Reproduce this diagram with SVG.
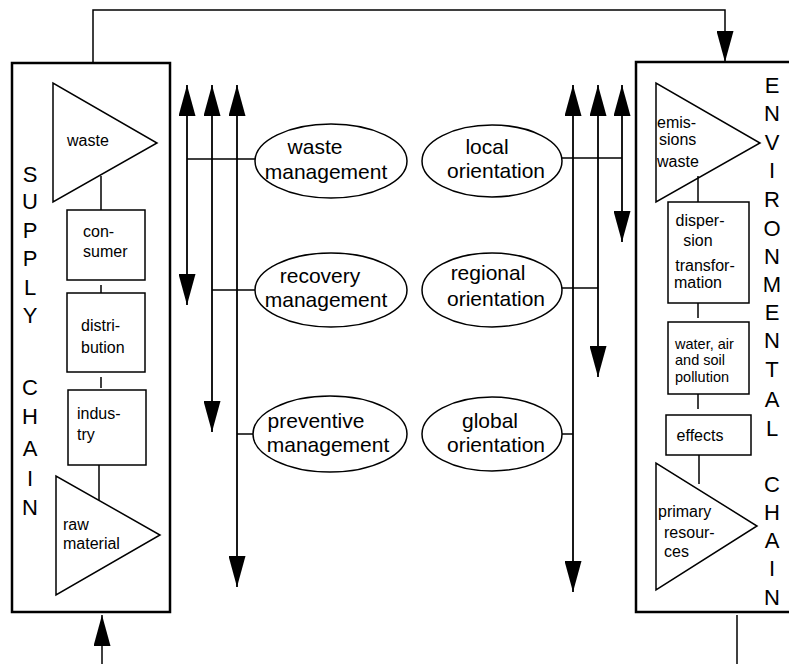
<svg xmlns="http://www.w3.org/2000/svg" width="789" height="664" viewBox="0 0 789 664">
<defs>
<marker id="ah" viewBox="0 0 31 17" markerWidth="31" markerHeight="17" markerUnits="userSpaceOnUse" refX="31" refY="8.5" orient="auto-start-reverse">
<path d="M0,0 L31,8.5 L0,17 z" fill="#000"/>
</marker>
</defs>
<style>
text{font-family:"Liberation Sans",Arial,sans-serif;fill:#000}
.s{font-size:16px}
.p{font-size:14.5px}
.m{font-size:21px;text-anchor:middle}
.big{font-size:22px;text-anchor:middle}
.panel{fill:none;stroke:#000;stroke-width:2.5}
.sh{fill:#fff;stroke:#000;stroke-width:1.5}
.ln{fill:none;stroke:#000;stroke-width:1.5}
.arr{fill:none;stroke:#000;stroke-width:1.8}
</style>
<rect width="789" height="664" fill="#fff"/>

<g id="supply-chain">
<rect class="panel" x="12" y="63" width="158" height="549"/>
<text class="big" x="30" y="182">S</text>
<text class="big" x="30" y="209">U</text>
<text class="big" x="30" y="238">P</text>
<text class="big" x="30" y="266">P</text>
<text class="big" x="30" y="295">L</text>
<text class="big" x="30" y="323">Y</text>
<text class="big" x="30" y="395">C</text>
<text class="big" x="30" y="424">H</text>
<text class="big" x="30" y="456">A</text>
<text class="big" x="30" y="486">I</text>
<text class="big" x="30" y="515">N</text>
</g>
<g id="waste-s">
<polygon class="sh" points="53,83 53,202 157,143"/>
<text class="s" x="67" y="146">waste</text>
</g>
<g id="consumer">
<rect class="sh" x="67" y="210" width="78" height="70"/>
<text class="s" x="83" y="237">con-</text>
<text class="s" x="83" y="257">sumer</text>
</g>
<g id="distribution">
<rect class="sh" x="67" y="293" width="78" height="79"/>
<text class="s" x="81" y="331">distri-</text>
<text class="s" x="81" y="353">bution</text>
</g>
<g id="industry">
<rect class="sh" x="68" y="390" width="78" height="75"/>
<text class="s" x="77" y="419">indus-</text>
<text class="s" x="77" y="440">try</text>
</g>
<g id="raw-material">
<polygon class="sh" points="56,476 56,595 160,535"/>
<text class="s" x="63" y="530">raw</text>
<text class="s" x="63" y="549">material</text>
</g>

<g id="environmental-chain">
<path class="panel" d="M800,62 H636 V612 H800"/>
<text class="big" x="772" y="93">E</text>
<text class="big" x="772" y="121">N</text>
<text class="big" x="772" y="150">V</text>
<text class="big" x="772" y="178">I</text>
<text class="big" x="772" y="207">R</text>
<text class="big" x="772" y="236">O</text>
<text class="big" x="772" y="264">N</text>
<text class="big" x="772" y="292">M</text>
<text class="big" x="772" y="320">E</text>
<text class="big" x="772" y="348">N</text>
<text class="big" x="772" y="377">T</text>
<text class="big" x="772" y="407">A</text>
<text class="big" x="772" y="436">L</text>
<text class="big" x="772" y="492">C</text>
<text class="big" x="772" y="520">H</text>
<text class="big" x="772" y="548">A</text>
<text class="big" x="772" y="576">I</text>
<text class="big" x="772" y="605">N</text>
</g>
<g id="emissions">
<polygon class="sh" points="656,83 656,202 760,143"/>
<text class="s" x="657" y="128">emis-</text>
<text class="s" x="659" y="145">sions</text>
<text class="s" x="657" y="167">waste</text>
</g>
<g id="dispersion">
<rect class="sh" x="668" y="202" width="81" height="101"/>
<text class="s" x="700" y="226" text-anchor="middle">disper-</text>
<text class="s" x="698" y="246" text-anchor="middle">sion</text>
<text class="s" x="705" y="271" text-anchor="middle">transfor-</text>
<text class="s" x="698" y="288" text-anchor="middle">mation</text>
</g>
<g id="pollution">
<rect class="sh" x="668" y="322" width="81" height="72"/>
<text class="p" x="675" y="348.5">water, air</text>
<text class="p" x="675" y="365">and soil</text>
<text class="p" x="675" y="381.5">pollution</text>
</g>
<g id="effects">
<rect class="sh" x="666" y="415" width="85" height="40"/>
<text class="s" x="700" y="441" text-anchor="middle">effects</text>
</g>
<g id="primary-resources">
<polygon class="sh" points="656,463 656,590 757,526"/>
<text class="s" x="658" y="517">primary</text>
<text class="s" x="664" y="538">resour-</text>
<text class="s" x="664" y="557">ces</text>
</g>

<g id="waste-management">
<ellipse class="sh" cx="331" cy="161" rx="76" ry="37"/>
<text class="m" x="315" y="154">waste</text>
<text class="m" x="326" y="179">management</text>
</g>
<g id="recovery-management">
<ellipse class="sh" cx="331" cy="290" rx="76" ry="37"/>
<text class="m" x="320" y="283">recovery</text>
<text class="m" x="326" y="307">management</text>
</g>
<g id="preventive-management">
<ellipse class="sh" cx="330" cy="434" rx="77" ry="38"/>
<text class="m" x="316" y="428">preventive</text>
<text class="m" x="328" y="452">management</text>
</g>
<g id="local-orientation">
<ellipse class="sh" cx="492" cy="161" rx="70" ry="36"/>
<text class="m" x="487" y="154">local</text>
<text class="m" x="496" y="178">orientation</text>
</g>
<g id="regional-orientation">
<ellipse class="sh" cx="492" cy="290" rx="70" ry="37"/>
<text class="m" x="488" y="280">regional</text>
<text class="m" x="496" y="306">orientation</text>
</g>
<g id="global-orientation">
<ellipse class="sh" cx="492" cy="434" rx="70" ry="37"/>
<text class="m" x="490" y="428">global</text>
<text class="m" x="496" y="452">orientation</text>
</g>

<g id="connectors">
<polyline class="ln" points="93,63 93,10 725,10 725,62" marker-end="url(#ah)"/>
<line class="ln" x1="102" y1="664" x2="102" y2="615" marker-end="url(#ah)"/>
<line class="ln" x1="737" y1="615" x2="737" y2="664"/>
<line class="ln" x1="101" y1="176" x2="101" y2="210"/>
<line class="ln" x1="101" y1="285" x2="101" y2="293"/>
<line class="ln" x1="101" y1="377" x2="101" y2="388"/>
<line class="ln" x1="99" y1="465" x2="99" y2="500"/>
<line class="ln" x1="698" y1="176" x2="698" y2="202"/>
<line class="ln" x1="698" y1="303" x2="698" y2="318"/>
<line class="ln" x1="698" y1="394" x2="698" y2="409"/>
<line class="ln" x1="699" y1="455" x2="699" y2="484"/>
<line class="arr" x1="187" y1="85" x2="187" y2="305" marker-start="url(#ah)" marker-end="url(#ah)"/>
<line class="arr" x1="212" y1="85" x2="212" y2="432" marker-start="url(#ah)" marker-end="url(#ah)"/>
<line class="arr" x1="237" y1="85" x2="237" y2="587" marker-start="url(#ah)" marker-end="url(#ah)"/>
<line class="arr" x1="573" y1="85" x2="573" y2="592" marker-start="url(#ah)" marker-end="url(#ah)"/>
<line class="arr" x1="598" y1="85" x2="598" y2="377" marker-start="url(#ah)" marker-end="url(#ah)"/>
<line class="arr" x1="622" y1="85" x2="622" y2="242" marker-start="url(#ah)" marker-end="url(#ah)"/>
<line class="ln" x1="187" y1="159" x2="255" y2="159"/>
<line class="ln" x1="212" y1="290" x2="255" y2="290"/>
<line class="ln" x1="237" y1="434" x2="253" y2="434"/>
<line class="ln" x1="562" y1="158" x2="622" y2="158"/>
<line class="ln" x1="562" y1="288" x2="598" y2="288"/>
<line class="ln" x1="562" y1="434" x2="573" y2="434"/>
</g>
</svg>
